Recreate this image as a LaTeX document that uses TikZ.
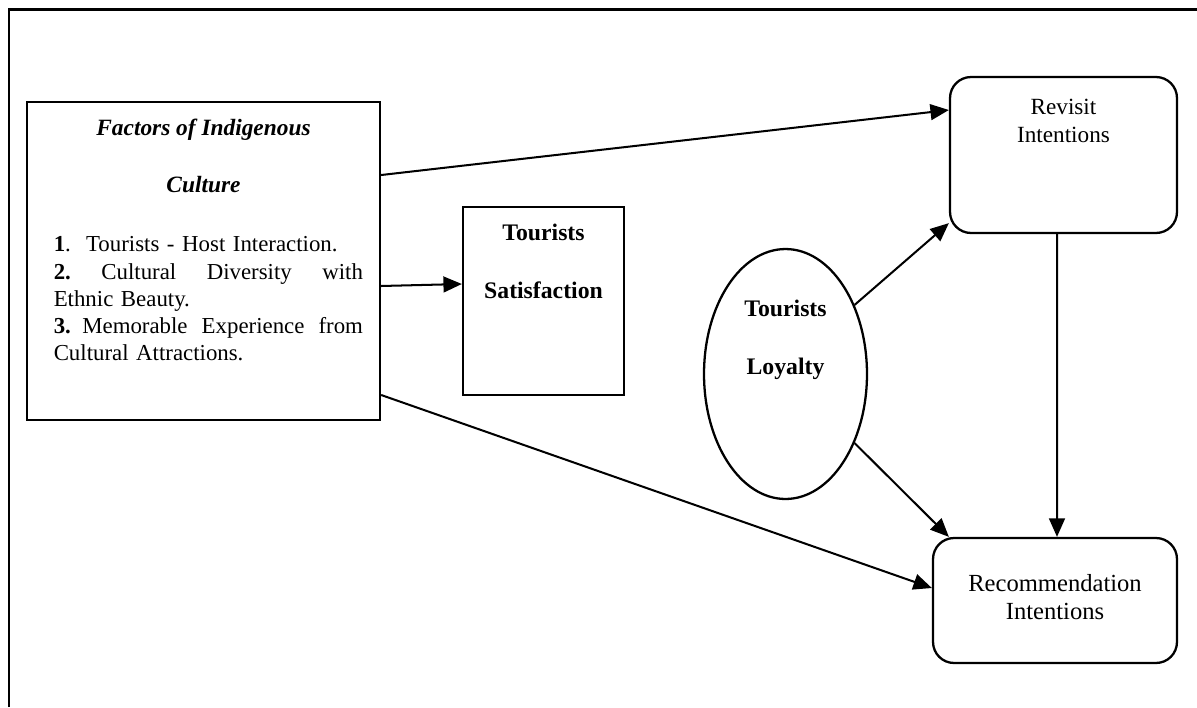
\documentclass[tikz,border=0pt]{standalone}
\usepackage{fontspec}
\setmainfont{Liberation Serif}
\usetikzlibrary{shapes,arrows.meta,calc,positioning}

\begin{document}
\begin{tikzpicture}[x=0.02cm,y=-0.02cm]
	\tikzstyle{every path}=[line width=1.15pt]

	\tikzstyle{sqbox}=[draw,rectangle,line width=1.3pt]
	\tikzstyle{rbox}=[draw,rectangle,rounded corners=0.42cm,line width=1.3pt]
	\tikzstyle{oval}=[draw,ellipse,line width=1.3pt,inner sep=0pt]
	\tikzstyle{ttl}=[font=\fontsize{13.3}{15.5}\selectfont\bfseries\itshape,anchor=base]
	\tikzstyle{bld}=[font=\fontsize{13.5}{15.5}\selectfont\bfseries,anchor=base]
	\tikzstyle{txt}=[font=\fontsize{13}{15.5}\selectfont,anchor=base]
	\tikzstyle{l}=[draw,-{Triangle[length=10.5pt,width=9pt]}]

	\useasboundingbox (0,0) rectangle (1197,707);
	%% outer frame
	\draw[line width=1.7pt] (9,707) -- (9,9.5) -- (1197,9.5);

	%% Draw boxes
	\node[sqbox,minimum width=7.06cm,minimum height=6.36cm] (fact) at (203.5,261) {};
	\node[sqbox,minimum width=3.22cm,minimum height=3.76cm] (sat) at (543.5,301) {};
	\node[oval,minimum width=3.26cm,minimum height=5cm] (loy) at (785.5,374) {};
	\node[rbox,minimum width=4.54cm,minimum height=3.12cm] (rev) at (1063.5,155) {};
	\node[rbox,minimum width=4.88cm,minimum height=2.5cm] (rec) at (1055,600.5) {};

	%% texts
	\node[ttl] (factA) at ([yshift=-0.7cm]fact.north) {Factors of Indigenous};
	\node[ttl] (factB) at ([yshift=-1.84cm]fact.north) {Culture};
	\node[txt,anchor=base west,text width=176pt,align=left] (factL) at ([xshift=0.42cm,yshift=-3.02cm]fact.north west)
		{\textbf{1}.\ \ Tourists - Host Interaction.\\
		\textbf{2.}\hfill Cultural\hfill Diversity\hfill with\\
		Ethnic Beauty.\\
		\textbf{3.} Memorable\hfill Experience\hfill from\\
		Cultural Attractions.};
	\node[bld] (satA) at ([yshift=-0.7cm]sat.north) {Tourists};
	\node[bld] (satB) at ([yshift=-1.86cm]sat.north) {Satisfaction};
	\node[bld] (loyA) at ([yshift=1.16cm]loy.center) {Tourists};
	\node[bld] (loyB) at (loy.center) {Loyalty};
	\node[txt,font=\fontsize{13.2}{15.5}\selectfont] (revA) at ([yshift=-0.78cm]rev.north) {Revisit};
	\node[txt,font=\fontsize{13.2}{15.5}\selectfont] (revB) at ([yshift=-1.34cm]rev.north) {Intentions};
	\node[txt,font=\fontsize{14}{15.5}\selectfont] (recA) at ([yshift=-1.1cm]rec.north) {Recommendation};
	\node[txt,font=\fontsize{14}{15.5}\selectfont] (recB) at ([yshift=-1.66cm]rec.north) {Intentions};

	%% arrows
	\draw[l] ([yshift=1.72cm]fact.east) -- ([yshift=0.9cm]rev.west);
	\draw[l] ([yshift=-0.5cm]fact.east) -- ([yshift=0.34cm]sat.west);
	\draw[l] ([yshift=-2.68cm]fact.east) -- ([yshift=0.25cm]rec.west);
	\draw[l] (loy.45) -- ([yshift=0.22cm]rev.south west);
	\draw[l] (loy.-45) -- ([xshift=0.34cm]rec.north west);
	\draw[l] ([xshift=-0.13cm]rev.south) -- ([xshift=0.04cm]rec.north);
\end{tikzpicture}
\end{document}
